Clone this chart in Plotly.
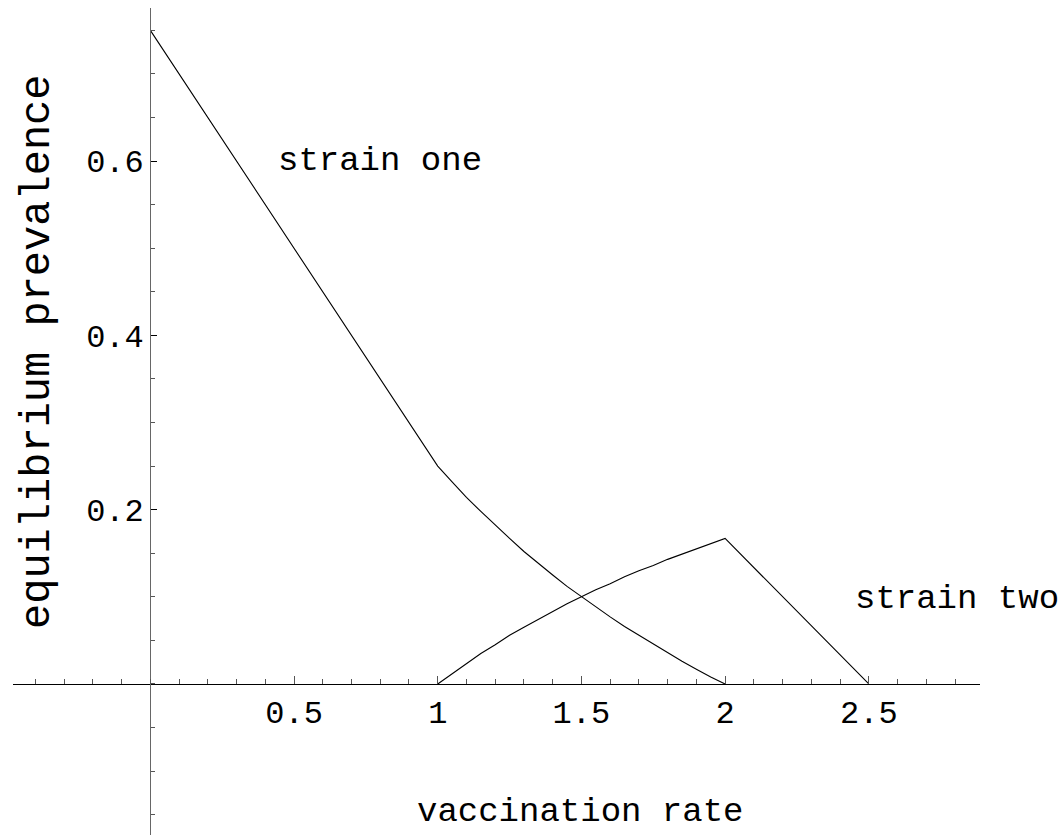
import plotly.graph_objects as go

# Data
vac_one = [0.0, 1.0, 1.05, 1.1, 1.15, 1.2, 1.25, 1.3, 1.35, 1.4, 1.45, 1.5,
           1.55, 1.6, 1.65, 1.7, 1.75, 1.8, 1.85, 1.9, 1.95, 2.0]
prev_one = [0.75, 0.25, 0.232, 0.214, 0.198, 0.182, 0.167, 0.152, 0.138, 0.125, 0.112, 0.100,
            0.088, 0.077, 0.066, 0.056, 0.045, 0.036, 0.026, 0.017, 0.008, 0.0]

vac_two = [1.0, 1.05, 1.1, 1.15, 1.2, 1.25, 1.3, 1.35, 1.4, 1.45, 1.5,
           1.55, 1.6, 1.65, 1.7, 1.75, 1.8, 1.85, 1.9, 1.95, 2.0, 2.5]
prev_two = [0.0, 0.012, 0.024, 0.035, 0.045, 0.056, 0.065, 0.074, 0.083, 0.092, 0.100,
            0.108, 0.115, 0.123, 0.130, 0.136, 0.143, 0.149, 0.155, 0.161, 0.167, 0.0]

x_tickvals = [0.5, 1, 1.5, 2, 2.5]
x_ticktext = ["0.5", "1", "1.5", "2", "2.5"]
y_tickvals = [0.2, 0.4, 0.6]
y_ticktext = ["0.2", "0.4", "0.6"]

labels = [("strain one", 0.8, 0.6), ("strain two", 2.807, 0.097)]

W, H = 1061, 835
FONT = "Liberation Mono"

fig = go.Figure()
fig.add_trace(go.Scatter(x=vac_one, y=prev_one, mode="lines",
                         line=dict(color="black", width=1.1), showlegend=False))
fig.add_trace(go.Scatter(x=vac_two, y=prev_two, mode="lines",
                         line=dict(color="black", width=1.1), showlegend=False))

annotations = []
for txt, xv, yv in labels:
    annotations.append(dict(x=xv, y=yv, xref="x", yref="y", text=txt, showarrow=False,
                            xanchor="center", yanchor="middle",
                            font=dict(family=FONT, size=34, color="black")))
annotations.append(dict(x=580 / W, y=(H - 812) / H, xref="paper", yref="paper",
                        text="vaccination rate", showarrow=False,
                        xanchor="center", yanchor="middle",
                        font=dict(family=FONT, size=34, color="black")))
annotations.append(dict(x=38 / W, y=(H - 352) / H, xref="paper", yref="paper",
                        text="equilibrium prevalence", showarrow=False, textangle=-90,
                        xanchor="center", yanchor="middle",
                        font=dict(family=FONT, size=42, color="black")))

fig.update_layout(
    width=W, height=H,
    margin=dict(l=0, r=0, t=0, b=0),
    paper_bgcolor="white", plot_bgcolor="white",
    showlegend=False,
    annotations=annotations,
    xaxis=dict(
        domain=[12.7 / W, 980 / W],
        range=[-0.479, 2.887],
        anchor="free", position=151 / H, side="bottom",
        showline=True, linecolor="black", linewidth=1,
        showgrid=False, zeroline=False,
        ticks="inside", ticklen=8, tickwidth=1, tickcolor="#555555",
        tickmode="array", tickvals=x_tickvals, ticktext=x_ticktext,
        tickfont=dict(family=FONT, size=32, color="black"),
        minor=dict(ticks="inside", ticklen=5, tickwidth=1, tickcolor="#555555",
                   tickmode="linear", tick0=0, dtick=0.1, showgrid=False),
        fixedrange=True,
    ),
    yaxis=dict(
        domain=[0, (H - 8) / H],
        range=[-0.1733, 0.7757],
        anchor="free", position=150.3 / W, side="left",
        showline=True, linecolor="#666666", linewidth=1.3,
        showgrid=False, zeroline=False,
        ticks="inside", ticklen=6, tickwidth=1, tickcolor="black",
        tickmode="array", tickvals=y_tickvals, ticktext=y_ticktext,
        tickfont=dict(family=FONT, size=32, color="black"),
        minor=dict(ticks="inside", ticklen=4, tickwidth=1, tickcolor="#555555",
                   tickmode="linear", tick0=0, dtick=0.05, showgrid=False),
        fixedrange=True,
    ),
)

fig.write_html("out.html")
